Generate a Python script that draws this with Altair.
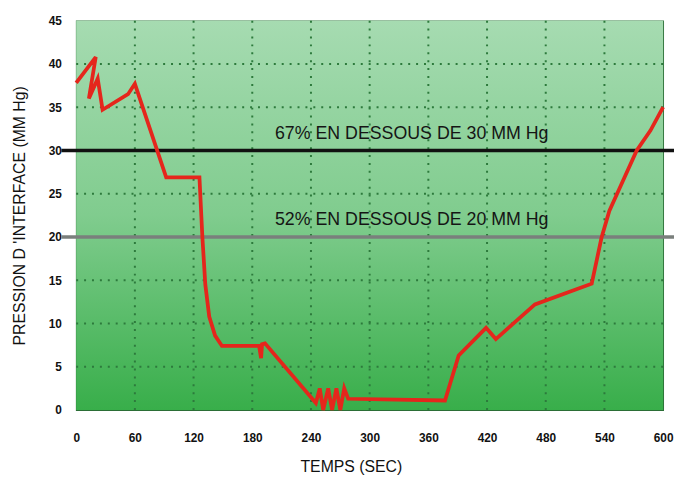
import altair as alt
import pandas as pd

# Red curve (time in sec, pressure in mm Hg), in drawing order
t_sec = [0, 20, 13, 22, 27, 53, 60, 92, 126, 129, 132, 136, 142, 149, 187, 189, 190, 193,
         245, 249, 252.5, 257.6, 261.6, 266, 270, 274, 278, 377, 391, 419, 429, 469, 510,
         527, 537, 545, 557, 573, 587, 600]
pressure = [37.8, 40.8, 36.0, 38.3, 34.7, 36.5, 37.7, 26.9, 26.9, 20.0, 14.5, 10.8, 8.6, 7.4,
            7.4, 6.0, 7.6, 7.7, 0.8, 2.5, 0.0, 2.5, 0.0, 2.5, 0.0, 2.5, 1.3, 1.1, 6.3, 9.5,
            8.2, 12.2, 13.9, 14.6, 19.9, 23.0, 26.0, 30.0, 32.3, 35.0]

x_ticks = [0, 60, 120, 180, 240, 300, 360, 420, 480, 540, 600]
y_ticks = [0, 5, 10, 15, 20, 25, 30, 35, 40, 45]

thresholds = [30, 20]
threshold_labels = ["67% EN DESSOUS DE 30 MM Hg", "52% EN DESSOUS DE 20 MM Hg"]
threshold_colors = ["#111111", "#7a7f7c"]

curve = pd.DataFrame({"t": t_sec, "p": pressure, "i": range(len(t_sec))})
xgrid = pd.DataFrame({"t": x_ticks[1:-1]})
ygrid = pd.DataFrame({"p": y_ticks[1:-1]})
thr = pd.DataFrame({"p": thresholds, "label": threshold_labels, "c": threshold_colors,
                    "tx": [343, 343]})

FONT = "Liberation Sans, Arial, sans-serif"

xscale = alt.Scale(domain=[0, 600], nice=False, zero=False)
yscale = alt.Scale(domain=[0, 45], nice=False)

xaxis = alt.Axis(values=x_ticks, title="TEMPS (SEC)", grid=False, ticks=False, domain=False,
                 labelFont=FONT, labelFontWeight="bold", labelFontSize=12, labelColor="#111",
                 labelPadding=23, titleFont=FONT, titleFontSize=16, titleFontWeight="normal",
                 titleColor="#111", titlePadding=15, titleX=278, labelFlush=False)
yaxis = alt.Axis(values=y_ticks, title="PRESSION D 'INTERFACE (MM Hg)", grid=False, ticks=False,
                 domain=False, labelFont=FONT, labelFontWeight="bold", labelFontSize=12,
                 labelColor="#111", labelPadding=15, titleFont=FONT, titleFontSize=16,
                 titleFontWeight="normal", titleColor="#111", titlePadding=21, labelFlush=False)

bg = alt.Chart(pd.DataFrame({"a": [0]})).mark_rect(
    color=alt.Gradient(
        gradient="linear",
        stops=[alt.GradientStop(color="#a6dbb1", offset=0),
               alt.GradientStop(color="#80cc8e", offset=0.5),
               alt.GradientStop(color="#38ae4a", offset=1)],
        x1=0, x2=0, y1=0, y2=1),
).encode(x=alt.value(0), x2=alt.value("width"), y=alt.value(0), y2=alt.value("height"))

vgrid = alt.Chart(xgrid).mark_rule(color="#2d7a3c", strokeWidth=2, strokeDash=[2, 6]).encode(
    x=alt.X("t:Q", scale=xscale, axis=xaxis))
hgrid = alt.Chart(ygrid).mark_rule(color="#2d7a3c", strokeWidth=2, strokeDash=[2, 6]).encode(
    y=alt.Y("p:Q", scale=yscale, axis=yaxis))

rules = alt.Chart(thr).mark_rule(strokeWidth=3.5).encode(
    y=alt.Y("p:Q", scale=yscale),
    x=alt.value(-15), x2=alt.value(606),
    color=alt.Color("c:N", scale=None))

labels = alt.Chart(thr).mark_text(font=FONT, fontSize=18, color="#151515", baseline="bottom",
                                  align="center", dy=-8).encode(
    x=alt.X("tx:Q", scale=xscale), y=alt.Y("p:Q", scale=yscale), text="label:N")

line = alt.Chart(curve).mark_line(color="#e5261c", strokeWidth=3.8, strokeJoin="miter").encode(
    x=alt.X("t:Q", scale=xscale), y=alt.Y("p:Q", scale=yscale), order="i:Q")

chart = alt.layer(bg, vgrid, hgrid, rules, labels, line).properties(
    width=594, height=394,
    autosize=alt.AutoSizeParams(type="none"),
    padding={"left": 69, "top": 10, "right": 11, "bottom": 67},
    background="white",
).configure_view(stroke="#2b6e36", strokeWidth=1.2)

chart.save("out.html", embed_options={"renderer": "svg", "actions": False})
